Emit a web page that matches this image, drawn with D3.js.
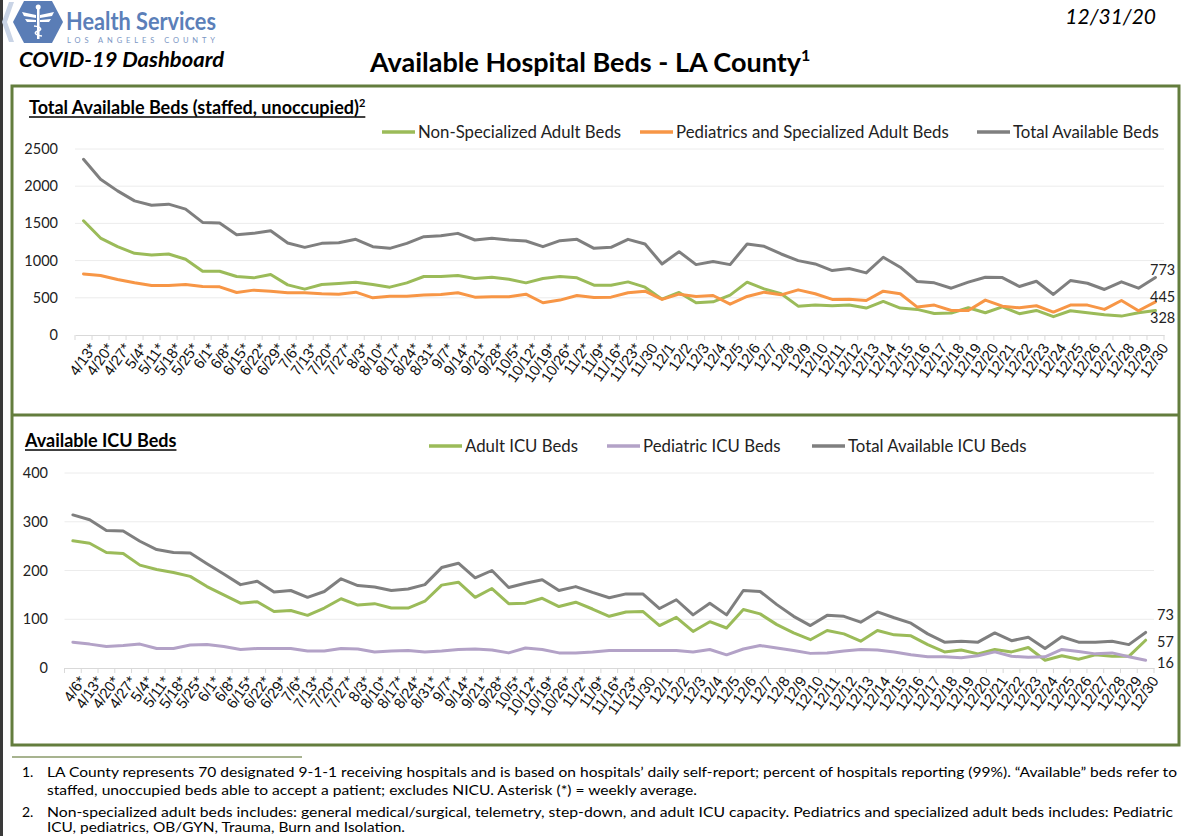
<!DOCTYPE html>
<html>
<head>
<meta charset="utf-8">
<script src="https://cdn.jsdelivr.net/npm/d3@7"></script>
<style>
  body { margin: 0; background: #fff; }
  svg { display: block; font-family: Lato, "Open Sans", sans-serif; }
</style>
</head>
<body>
<svg id="chart" width="1189" height="836"></svg>
<script>
// ---- data ----
const weeksTop = ["4/13*", "4/20*", "4/27*", "5/4*", "5/11*", "5/18*", "5/25*", "6/1*", "6/8*", "6/15*",
    "6/22*", "6/29*", "7/6*", "7/13*", "7/20*", "7/27*", "8/3*", "8/10*", "8/17*", "8/24*", "8/31*",
    "9/7*", "9/14*", "9/21*", "9/28*", "10/5*", "10/12*", "10/19*", "10/26*", "11/2*", "11/9*",
    "11/16*", "11/23*"];
const days = ["11/30", "12/1", "12/2", "12/3", "12/4", "12/5", "12/6", "12/7", "12/8", "12/9", "12/10",
    "12/11", "12/12", "12/13", "12/14", "12/15", "12/16", "12/17", "12/18", "12/19", "12/20", "12/21",
    "12/22", "12/23", "12/24", "12/25", "12/26", "12/27", "12/28", "12/29", "12/30"];
const bedDates = weeksTop.concat(days);
const icuDates = ["4/6*"].concat(weeksTop, days);

const nonSpecialized = [1536, 1303, 1187, 1098, 1076, 1089, 1018, 857, 857, 786, 768, 812, 674, 616,
    679, 692, 710, 679, 643, 701, 786, 786, 799, 759, 777, 750, 701, 759, 786, 768, 670, 670, 714,
    643, 482, 571, 433, 446, 536, 710, 620, 554, 388, 402, 393, 402, 362, 451, 362, 344, 290, 295,
    366, 299, 379, 286, 330, 246, 326, 299, 272, 254, 299, 328];
const pediatricsSpecialized = [821, 799, 745, 701, 665, 665, 679, 652, 647, 571, 603, 589, 567, 567,
    554, 549, 576, 500, 522, 522, 536, 545, 567, 509, 513, 513, 549, 433, 469, 531, 504, 509, 567,
    589, 478, 549, 518, 531, 415, 518, 576, 540, 607, 554, 478, 482, 464, 589, 554, 375, 402, 330,
    330, 469, 388, 366, 393, 308, 402, 402, 344, 464, 326, 445];
const totalBeds = [2361, 2094, 1937, 1803, 1745, 1759, 1692, 1513, 1504, 1348, 1366, 1402, 1236, 1178,
    1232, 1241, 1286, 1187, 1165, 1232, 1321, 1335, 1366, 1277, 1299, 1277, 1263, 1187, 1268, 1286,
    1165, 1178, 1286, 1223, 955, 1120, 946, 987, 946, 1223, 1192, 1089, 1000, 955, 866, 893, 835,
    1045, 911, 719, 701, 629, 710, 777, 772, 652, 723, 545, 732, 696, 612, 714, 629, 773];

const adultIcu = [261, 256, 237, 235, 211, 202, 196, 188, 167, 150, 133, 136, 116, 118, 108, 123, 142,
    129, 132, 123, 123, 137, 170, 176, 145, 163, 132, 133, 143, 126, 135, 121, 106, 115, 116, 87, 104,
    75, 95, 82, 120, 111, 89, 72, 58, 77, 70, 55, 77, 68, 66, 48, 33, 37, 29, 38, 33, 42, 16, 25, 18,
    27, 24, 24, 57];
const pediatricIcu = [53, 49, 44, 46, 49, 40, 40, 47, 48, 44, 38, 40, 40, 40, 35, 35, 40, 39, 33, 35,
    36, 33, 35, 38, 39, 37, 31, 41, 38, 31, 31, 33, 36, 36, 36, 36, 36, 33, 38, 27, 39, 46, 41, 36, 30,
    31, 35, 38, 37, 33, 27, 23, 23, 21, 25, 33, 24, 22, 23, 38, 34, 29, 31, 23, 16];
const totalIcu = [314, 304, 282, 281, 260, 243, 237, 236, 214, 193, 171, 178, 156, 159, 145, 157, 183,
    169, 166, 159, 162, 171, 206, 215, 185, 200, 165, 174, 181, 159, 167, 155, 144, 152, 152, 122, 140,
    109, 133, 109, 159, 157, 130, 106, 87, 108, 106, 94, 115, 103, 92, 70, 53, 55, 53, 72, 56, 63, 40,
    64, 53, 53, 55, 48, 73];

const bedTicks = [0, 500, 1000, 1500, 2000, 2500];
const icuTicks = [0, 100, 200, 300, 400];

const GREEN = "#9bbb59", ORANGE = "#f79646", GRAY = "#7f7f7f", PURPLE = "#b3a2c7";
const BORDER = "#637d3d";

const svg = d3.select("#chart");

// dark strip at the left edge of the screenshot
svg.append("rect").attr("x", 0).attr("y", 0).attr("width", 3).attr("height", 836).attr("fill", "#3a3a3a");

// ---- header ----
const logo = svg.append("g");
logo.append("path")
    .attr("d", "M14,2 L9,2 L2,22 L9,42 L14,42 L7,22 Z")
    .attr("fill", "#c9d4e6");
logo.append("path")
    .attr("d", "M24,1 L52,1 L63,22 L52,43 L24,43 L13,22 Z")
    .attr("fill", "#5a7db6");
// little white emblem: wings and staff
logo.append("path")
    .attr("d", "M22,12 L36,15 L36,18 L24,16 Z M54,12 L40,15 L40,18 L52,16 Z M25,19 L36,20 L36,22 L27,22 Z M51,19 L40,20 L40,22 L49,22 Z")
    .attr("fill", "#fff");
logo.append("rect").attr("x", 37).attr("y", 7).attr("width", 2.5).attr("height", 32).attr("fill", "#fff");
logo.append("circle").attr("cx", 38.2).attr("cy", 7).attr("r", 2.5).attr("fill", "#fff");
logo.append("path")
    .attr("d", "M34,26 C42,27 42,30 38,31 C34,32 34,35 42,36")
    .attr("fill", "none").attr("stroke", "#fff").attr("stroke-width", 1.6);

svg.append("text").attr("x", 66).attr("y", 30)
    .attr("font-size", 24).attr("font-weight", "bold").attr("fill", "#5b7fb9")
    .attr("textLength", 150).attr("lengthAdjust", "spacingAndGlyphs")
    .text("Health Services");
svg.append("text").attr("x", 67).attr("y", 43)
    .attr("font-size", 7.5).attr("fill", "#7a95c4")
    .attr("textLength", 148).attr("lengthAdjust", "spacing")
    .text("LOS ANGELES COUNTY");

svg.append("text").attr("x", 19).attr("y", 67)
    .attr("font-size", 20).attr("font-weight", "bold").attr("font-style", "italic")
    .attr("textLength", 205).attr("lengthAdjust", "spacingAndGlyphs")
    .text("COVID-19 Dashboard");

svg.append("text").attr("x", 1156).attr("y", 24).attr("text-anchor", "end")
    .attr("font-size", 21).attr("font-style", "italic")
    .text("12/31/20");

const title = svg.append("text").attr("x", 370).attr("y", 72)
    .attr("font-size", 27).attr("font-weight", "bold");
title.append("tspan").text("Available Hospital Beds - LA County");
title.append("tspan").attr("font-size", 16).attr("dy", -11).text("1");

// ---- panel frames ----
svg.append("rect").attr("x", 12).attr("y", 86).attr("width", 1167).attr("height", 659)
    .attr("fill", "none").attr("stroke", BORDER).attr("stroke-width", 3);
svg.append("line").attr("x1", 12).attr("x2", 1179).attr("y1", 415).attr("y2", 415)
    .attr("stroke", BORDER).attr("stroke-width", 3);

function panelTitle(x, y, txt, sup) {
    const t = svg.append("text").attr("x", x).attr("y", y)
        .attr("font-size", 18).attr("font-weight", "bold");
    t.append("tspan").text(txt);
    if (sup) t.append("tspan").attr("font-size", 11).attr("dy", -7).text(sup);
    const w = t.node().getComputedTextLength();
    svg.append("line").attr("x1", x).attr("x2", x + w).attr("y1", y + 3).attr("y2", y + 3)
        .attr("stroke", "#000").attr("stroke-width", 1.3);
}

function legend(y, items) {
    items.forEach(it => {
        svg.append("line").attr("x1", it.x).attr("x2", it.x + 33).attr("y1", y).attr("y2", y)
            .attr("stroke", it.color).attr("stroke-width", 3.5);
        svg.append("text").attr("x", it.x + 36).attr("y", y + 5.5)
            .attr("font-size", 16.8).attr("fill", "#222").text(it.label);
    });
}

function drawChart(opt) {
    const x = d3.scaleBand().domain(opt.dates).range(opt.xRange);
    const y = d3.scaleLinear().domain([0, opt.max]).range(opt.yRange);
    const cx = d => x(d) + x.bandwidth() / 2;
    const g = svg.append("g");

    // gridlines
    g.selectAll(".grid").data(opt.ticks.filter(t => t > 0)).enter().append("line")
        .attr("x1", opt.xRange[0]).attr("x2", opt.xRange[1])
        .attr("y1", d => y(d)).attr("y2", d => y(d))
        .attr("stroke", "#ececec").attr("stroke-width", 1);

    // y labels
    g.selectAll(".ylab").data(opt.ticks).enter().append("text")
        .attr("x", opt.yLabelX).attr("y", d => y(d) + 5)
        .attr("text-anchor", "end").attr("font-size", 14.5).attr("fill", "#222")
        .text(d => d);

    // x axis with ticks between categories
    const axis = d3.axisBottom(x).tickSize(0).tickFormat("");
    const ag = g.append("g").attr("transform", `translate(0,${opt.yRange[0]})`).call(axis);
    ag.select(".domain").attr("stroke", "#d9d9d9").attr("stroke-width", 1.2);
    const bounds = opt.dates.map(d => x(d)).concat([opt.xRange[1]]);
    ag.selectAll(".bt").data(bounds).enter().append("line")
        .attr("x1", d => d).attr("x2", d => d).attr("y1", 0).attr("y2", 5)
        .attr("stroke", "#d9d9d9");

    ag.selectAll(".xlab").data(opt.dates).enter().append("text")
        .attr("transform", d => `translate(${cx(d) + 5},${7}) rotate(-55)`)
        .attr("text-anchor", "end").attr("dy", "0.7em")
        .attr("font-size", 15).attr("fill", "#111")
        .text(d => d);

    // lines
    const line = d3.line().x((d, i) => cx(opt.dates[i])).y(d => y(d));
    opt.series.forEach(s => {
        g.append("path").datum(s.values)
            .attr("fill", "none").attr("stroke", s.color).attr("stroke-width", 3)
            .attr("stroke-linejoin", "round").attr("stroke-linecap", "round")
            .attr("d", line);
    });

    // end labels
    opt.endLabels.forEach(l => {
        g.append("text").attr("x", opt.xRange[1] + l.dx).attr("y", y(l.value) + l.dy)
            .attr("font-size", 14.5).attr("fill", "#222").text(l.value);
    });
}

// ---- top panel ----
panelTitle(29, 114, "Total Available Beds (staffed, unoccupied)", "2");
legend(132, [
    {x: 382, color: GREEN, label: "Non-Specialized Adult Beds"},
    {x: 640, color: ORANGE, label: "Pediatrics and Specialized Adult Beds"},
    {x: 977, color: GRAY, label: "Total Available Beds"}
]);
drawChart({
    dates: bedDates,
    xRange: [75, 1164],
    yRange: [335, 149],
    max: 2500,
    ticks: bedTicks,
    yLabelX: 58,
    series: [
        {values: nonSpecialized, color: GREEN},
        {values: pediatricsSpecialized, color: ORANGE},
        {values: totalBeds, color: GRAY}
    ],
    endLabels: [
        {value: totalBeds[totalBeds.length - 1], dx: -14, dy: -2},
        {value: pediatricsSpecialized[pediatricsSpecialized.length - 1], dx: -14, dy: 0},
        {value: nonSpecialized[nonSpecialized.length - 1], dx: -14, dy: 12}
    ]
});

// ---- bottom panel ----
panelTitle(25, 447, "Available ICU Beds", null);
legend(446, [
    {x: 429, color: GREEN, label: "Adult ICU Beds"},
    {x: 607, color: PURPLE, label: "Pediatric ICU Beds"},
    {x: 812, color: GRAY, label: "Total Available ICU Beds"}
]);
drawChart({
    dates: icuDates,
    xRange: [64.5, 1154],
    yRange: [668, 473],
    max: 400,
    ticks: icuTicks,
    yLabelX: 48,
    series: [
        {values: adultIcu, color: GREEN},
        {values: pediatricIcu, color: PURPLE},
        {values: totalIcu, color: GRAY}
    ],
    endLabels: [
        {value: totalIcu[totalIcu.length - 1], dx: 3, dy: -12},
        {value: adultIcu[adultIcu.length - 1], dx: 3, dy: 7},
        {value: pediatricIcu[pediatricIcu.length - 1], dx: 3, dy: 8}
    ]
});

// ---- footnotes ----
svg.append("line").attr("x1", 12).attr("x2", 302).attr("y1", 757).attr("y2", 757)
    .attr("stroke", "#8a9a6a").attr("stroke-width", 1.5);
const notes = [
    {num: "1.", y: 777, text: "LA County represents 70 designated 9-1-1 receiving hospitals and is based on hospitals\u2019 daily self-report; percent of hospitals reporting (99%). \u201cAvailable\u201d beds refer to", len: 1130},
    {num: null, y: 795, text: "staffed, unoccupied beds able to accept a patient; excludes NICU. Asterisk (*) = weekly average.", len: 650},
    {num: "2.", y: 817, text: "Non-specialized adult beds includes: general medical/surgical, telemetry, step-down, and adult ICU capacity.  Pediatrics and specialized adult beds includes:  Pediatric", len: 1126},
    {num: null, y: 832, text: "ICU, pediatrics, OB/GYN, Trauma, Burn and Isolation.", len: 358}
];
notes.forEach(n => {
    if (n.num) svg.append("text").attr("x", 22).attr("y", n.y).attr("font-size", 14).text(n.num);
    svg.append("text").attr("x", 47).attr("y", n.y).attr("font-size", 14)
        .attr("textLength", n.len).attr("lengthAdjust", "spacingAndGlyphs")
        .text(n.text);
});
</script>
</body>
</html>
